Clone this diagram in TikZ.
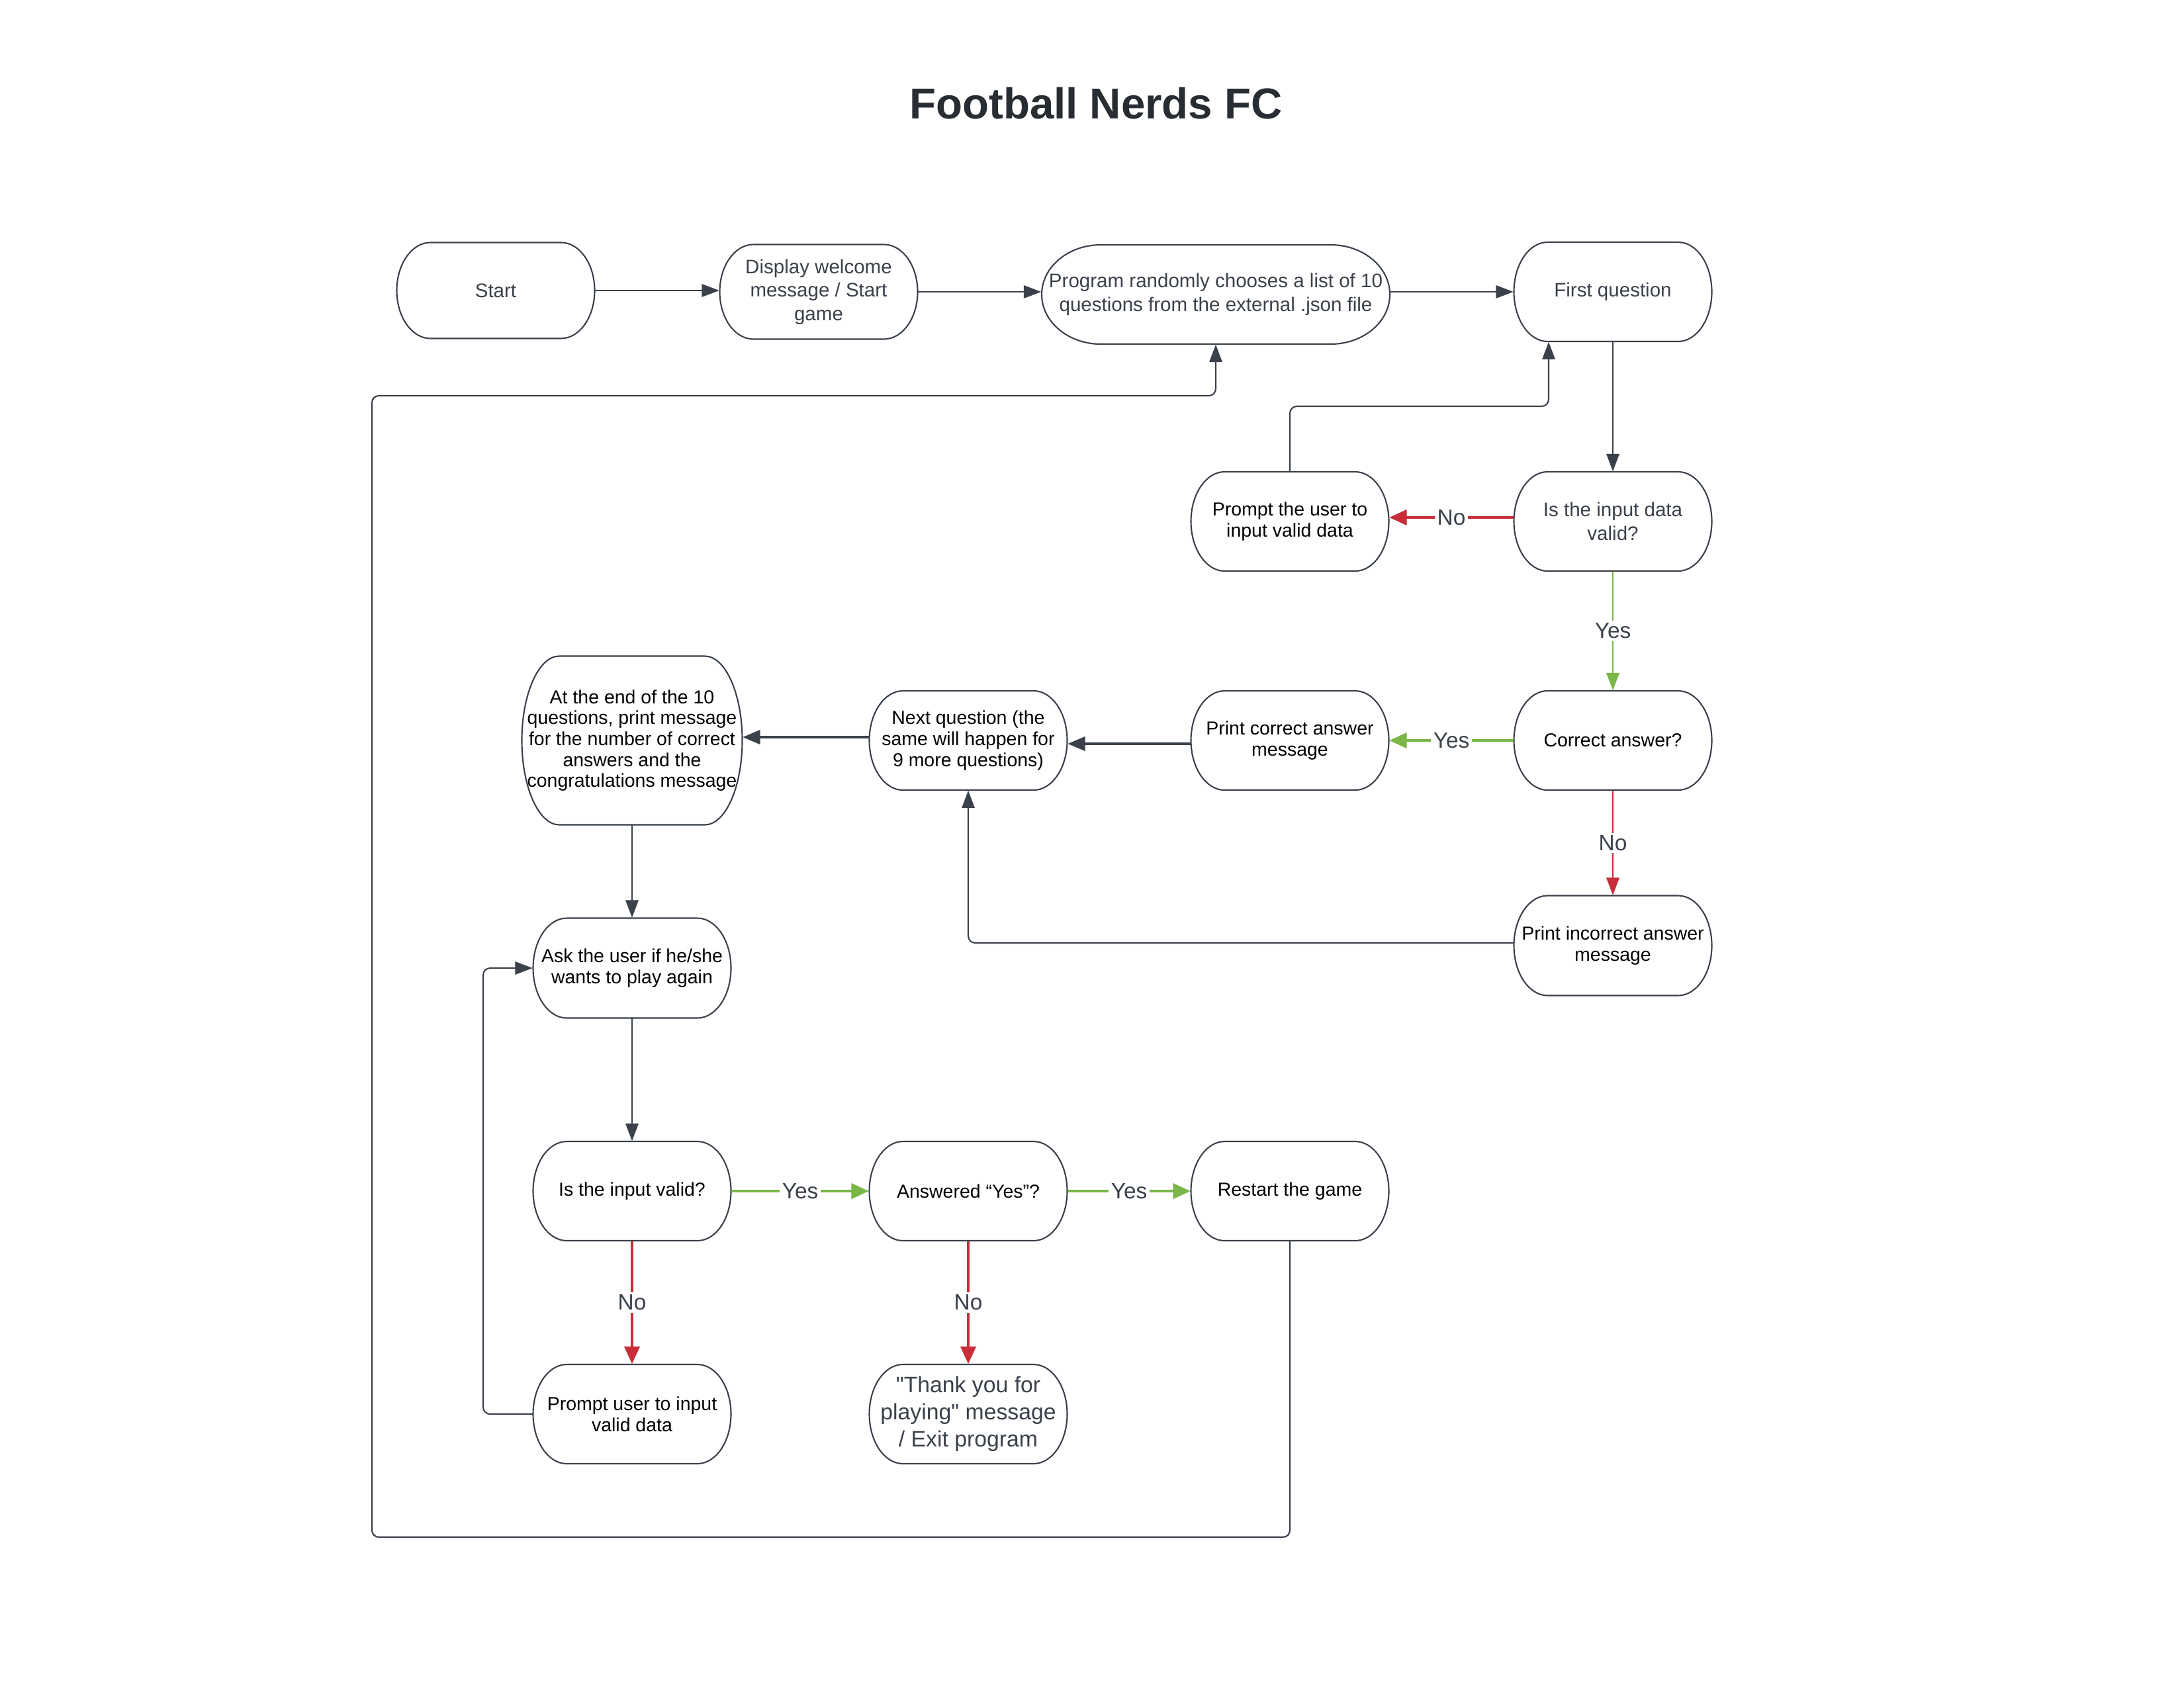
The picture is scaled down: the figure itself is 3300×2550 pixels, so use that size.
\documentclass[tikz,border=0pt]{standalone}
\usepackage{fontspec}
\setmainfont{Liberation Sans}[Ligatures=TeXOff]
\usetikzlibrary{arrows.meta,calc}
\definecolor{lc}{HTML}{3A414A}
\definecolor{tc}{HTML}{282C33}
\definecolor{rd}{HTML}{C92D39}
\definecolor{gn}{HTML}{7AB648}
\tikzset{
  shapeline/.style={draw=lc, line width=0.6pt},
  box/.style={inner sep=0pt, align=center, text=black, font=\fontsize{8.1}{9}\selectfont},
  graytext/.style={text=lc, font=\fontsize{8.4}{10.1}\selectfont},
  bigtext/.style={text=lc, font=\fontsize{9.6}{11.6}\selectfont},
  conn/.style={draw=lc, line width=0.6pt, -{Triangle[length=7.5pt,width=5.5pt]}},
  connthick/.style={draw=lc, line width=1.1pt, -{Triangle[length=7.5pt,width=6pt]}},
  yesline/.style={draw=gn, line width=0.7pt, -{Triangle[length=7.5pt,width=5.5pt]}},
  yesthick/.style={draw=gn, line width=1.3pt, -{Triangle[length=7.5pt,width=6.5pt]}},
  noline/.style={draw=rd, line width=0.7pt, -{Triangle[length=7.5pt,width=5.5pt]}},
  nothick/.style={draw=rd, line width=1.3pt, -{Triangle[length=7.5pt,width=6.5pt]}},
  lbl/.style={fill=white, text=lc, inner sep=1pt, font=\fontsize{9.5}{11}\selectfont},
  smallround/.style={rounded corners=3pt},
}
\newcommand\term[7][]{%
  \pgfmathsetmacro\rxx{0.17*#5}\pgfmathsetmacro\ryy{#6/2}%
  \draw[shapeline] ({#3-#5/2+\rxx},{#4+\ryy}) -- ({#3+#5/2-\rxx},{#4+\ryy})
    arc[start angle=90,end angle=-90,x radius={\rxx*0.01cm},y radius={\ryy*0.01cm}]
    -- ({#3-#5/2+\rxx},{#4-\ryy})
    arc[start angle=270,end angle=90,x radius={\rxx*0.01cm},y radius={\ryy*0.01cm}] -- cycle;
  \node[box,#1,minimum width={#5*0.01cm},minimum height={#6*0.01cm}] (#2) at (#3,#4) {#7};
}
\begin{document}
\begin{tikzpicture}[x=0.01cm,y=0.01cm]
\useasboundingbox[fill=white] (0,0) rectangle (3300,-2550);
\node[font=\fontsize{18.6}{22}\selectfont\bfseries, text=tc] (title) at (1656,-156) {Football Nerds FC};

\term[graytext]{start}{749}{-439}{299}{145}{Start}
\term[graytext]{display}{1237}{-441}{299}{143}{Display welcome\\message / Start\\game}
\term[graytext]{program}{1837}{-445}{526}{150}{Program randomly chooses a list of 10\\questions from the external .json file}
\term[graytext]{first}{2437}{-441}{299}{150}{First question}
\term[graytext]{valid1}{2437}{-788}{299}{150}{Is the input data\\valid?}
\term{prompt1}{1949}{-788}{299}{150}{Prompt the user to\\input valid data}
\term{correct}{2437}{-1119}{299}{150}{Correct answer?}
\term{printc}{1949}{-1119}{299}{150}{Print correct answer\\message}
\term{nextq}{1463}{-1119}{299}{150}{Next question (the\\same will happen for\\9 more questions)}
\term{atend}{955}{-1119}{333}{255}{At the end of the 10\\questions, print message\\for the number of correct\\answers and the\\congratulations message}
\term{printi}{2437}{-1429}{299}{151}{Print incorrect answer\\message}
\term{ask}{955}{-1463}{299}{151}{Ask the user if he/she\\wants to play again}
\term{valid2}{955}{-1800}{299}{150}{Is the input valid?}
\term{answered}{1463}{-1800}{299}{150}{Answered “Yes”?}
\term{restart}{1949}{-1800}{299}{150}{Restart the game}
\term{prompt2}{955}{-2137}{299}{150}{Prompt user to input\\valid data}
\term[bigtext]{thanks}{1463}{-2137}{299}{150}{"Thank you for\\playing" message\\/ Exit program}

\coordinate (p1turn) at (2340,-614);
\coordinate (loopA) at (730,-1800);
\coordinate (lb1) at (562,-2323);
\coordinate (lb2) at (562,-598);

\draw[conn] (start.east) -- (start.east -| display.west);
\draw[conn] (display.east) -- (display.east -| program.west);
\draw[conn] (first.west -| program.east) -- (first.west);
\draw[conn] (first.south) -- (valid1.north);
\draw[nothick] ([yshift=0.06cm]valid1.west) -- node[lbl]{No} ([yshift=0.06cm]prompt1.east);
\draw[conn, smallround] (prompt1.north) |- (p1turn) -- (p1turn |- first.south);
\draw[yesline] (valid1.south) -- node[lbl]{Yes} (correct.north);
\draw[yesthick] (correct.west) -- node[lbl]{Yes} (printc.east);
\draw[noline] (correct.south) -- node[lbl]{No} (printi.north);
\draw[connthick] ([yshift=-0.05cm]printc.west) -- ([yshift=-0.05cm]nextq.east);
\draw[connthick] ([yshift=0.05cm]nextq.west) -- ([yshift=0.05cm]atend.east);
\draw[conn, smallround] ([yshift=0.04cm]printi.west) -| (nextq.south);
\draw[conn] (atend.south) -- (ask.north);
\draw[conn] (ask.south) -- (valid2.north);
\draw[yesthick] (valid2.east) -- node[lbl]{Yes} (answered.west);
\draw[yesthick] (answered.east) -- node[lbl]{Yes} (restart.west);
\draw[nothick] (valid2.south) -- node[lbl]{No} (prompt2.north);
\draw[nothick] (answered.south) -- node[lbl]{No} (thanks.north);
\draw[conn, smallround] (prompt2.west) -| (loopA) |- (ask.west);
\draw[conn, smallround] (restart.south) |- (lb1) -- (lb2) -| (program.south);
\end{tikzpicture}
\end{document}
